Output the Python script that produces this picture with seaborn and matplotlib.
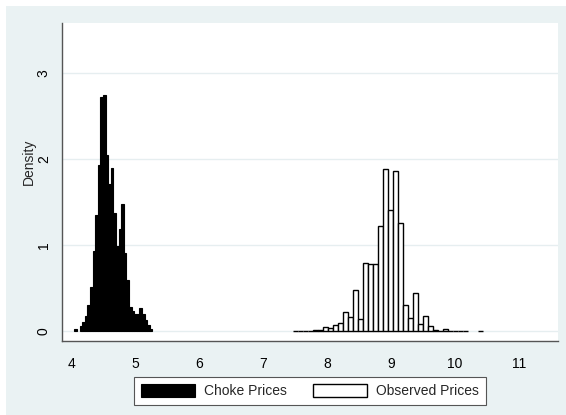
import numpy as np
import pandas as pd
import matplotlib
matplotlib.use("Agg")
import matplotlib.pyplot as plt
from matplotlib.patches import Rectangle, Patch
import seaborn as sns

# Histogram bins: first lower edge, bin width and density per bin
choke_start = 4.04
choke_width = 0.0407
choke_density = [0.02, 0.0, 0.06, 0.11, 0.18, 0.30, 0.51, 0.93, 1.35, 1.93,
                 2.72, 2.74, 2.04, 1.71, 1.90, 1.37, 0.99, 1.19, 1.48, 0.91,
                 0.60, 0.28, 0.24, 0.20, 0.20, 0.27, 0.20, 0.13, 0.07, 0.02]

observed_start = 7.47
observed_width = 0.0782
observed_density = [0.005, 0.005, 0.005, 0.005, 0.012, 0.012, 0.05, 0.035, 0.07, 0.09,
                    0.22, 0.16, 0.48, 0.14, 0.79, 0.78, 0.775, 1.22, 1.88, 1.41,
                    1.86, 1.26, 0.30, 0.15, 0.445, 0.085, 0.175, 0.065, 0.015, 0.005,
                    0.02, 0.005, 0.005, 0.005, 0.005, 0.0, 0.0, 0.005]

x_ticks = [4, 5, 6, 7, 8, 9, 10, 11]
y_ticks = [0, 1, 2, 3]
legend_labels = ["Choke Prices", "Observed Prices"]


def hist_frame(start, width, density):
    n = len(density)
    edges = start + width * np.arange(n + 1)
    centers = (edges[:-1] + edges[1:]) / 2
    return pd.DataFrame({"price": centers, "density": density}), [float(e) for e in edges]


choke_df, choke_edges = hist_frame(choke_start, choke_width, choke_density)
obs_df, obs_edges = hist_frame(observed_start, observed_width, observed_density)

sns.set_style("white")
plt.rcParams["font.family"] = ["Liberation Sans", "DejaVu Sans"]

W, H = 566, 415
fig = plt.figure(figsize=(W / 100, H / 100), dpi=100, facecolor="white")
fig.patches.append(Rectangle((6 / W, 0), 1, 1 - 6.5 / H, transform=fig.transFigure,
                             facecolor="#eaf2f3", edgecolor="none", zorder=-10))

ax = fig.add_axes([62 / W, 1 - 341 / H, (558 - 62) / W, (341 - 23) / H])
ax.set_zorder(1)
ax.set_facecolor("white")

sns.histplot(data=choke_df, x="price", weights="density", bins=choke_edges,
             stat="count", color="black", edgecolor="black", linewidth=0.8,
             alpha=1, ax=ax)
sns.histplot(data=obs_df, x="price", weights="density", bins=obs_edges,
             stat="count", color="white", edgecolor="black", linewidth=1.0,
             alpha=1, ax=ax)

# empty bins draw nothing
for p in ax.patches:
    p.set_zorder(3)
    if p.get_height() <= 0:
        p.set_visible(False)

ax.set_xlim(3.847, 11.61)
ax.set_ylim(-0.114, 3.578)
ax.set_xticks(x_ticks)
ax.set_yticks(y_ticks)
ax.set_xticklabels([str(t) for t in x_ticks])
ax.set_yticklabels([str(t) for t in y_ticks], rotation=90, va="center")

for t in y_ticks:
    ax.axhline(t, color="#e6eef0", lw=1.0, zorder=1)

for s in ["top", "right"]:
    ax.spines[s].set_visible(False)
for s in ["left", "bottom"]:
    ax.spines[s].set_color("#555555")
    ax.spines[s].set_linewidth(1.0)

ax.tick_params(axis="both", direction="out", length=5, width=0.9, color="#555555",
               labelsize=10, labelcolor="black")
ax.tick_params(axis="x", pad=6.5)
ax.tick_params(axis="y", pad=3)
ax.set_xlabel("")
ax.set_ylabel("Density", fontsize=10)
ax.yaxis.set_label_coords(-0.053, 0.563)

handles = [Patch(facecolor="black", edgecolor="black", linewidth=0.8),
           Patch(facecolor="white", edgecolor="black", linewidth=1.0)]
leg = fig.legend(handles, legend_labels, ncol=2, loc="center",
                 bbox_to_anchor=(310 / W, 1 - 391 / H), fontsize=10,
                 frameon=True, fancybox=False, handlelength=3.9, handleheight=1.1,
                 handletextpad=0.65, columnspacing=1.9, borderpad=0.5,
                 borderaxespad=0)
leg.get_frame().set_edgecolor("#555555")
leg.get_frame().set_linewidth(0.8)
leg.get_frame().set_facecolor("white")
leg.get_frame().set_alpha(1)

fig.savefig("out.png", dpi=100, facecolor=fig.get_facecolor())
